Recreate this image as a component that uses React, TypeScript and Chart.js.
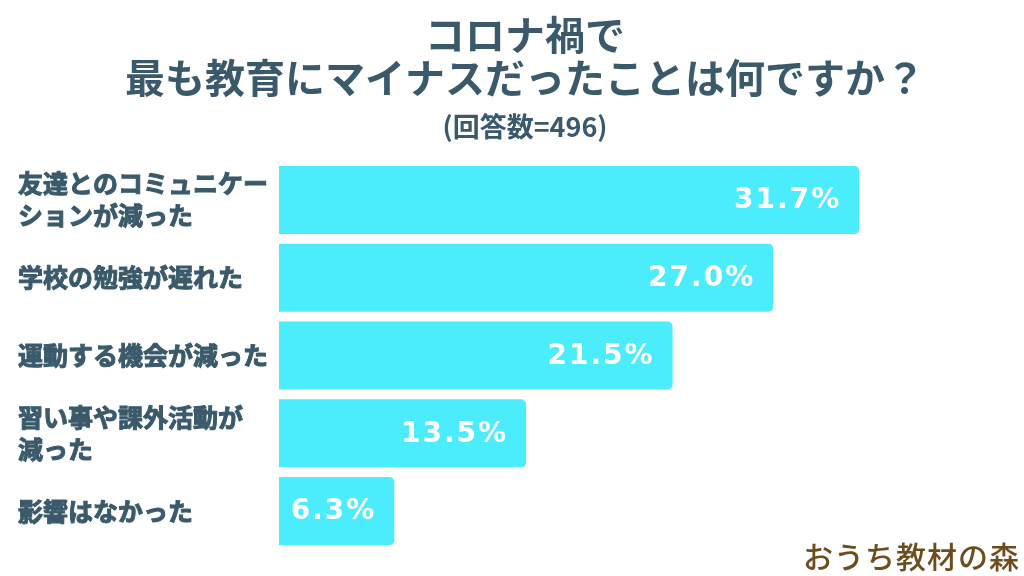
import React, { useEffect, useRef } from 'react';
import { Chart, registerables } from 'chart.js';

Chart.register(...registerables);

const titleLines = ['コロナ禍で', '最も教育にマイナスだったことは何ですか？'];
const subtitleText = '(回答数=496)';
const categories = [
  ['友達とのコミュニケー', 'ションが減った'],
  ['学校の勉強が遅れた'],
  ['運動する機会が減った'],
  ['習い事や課外活動が', '減った'],
  ['影響はなかった'],
];
const values = [31.7, 27.0, 21.5, 13.5, 6.3];
const watermark = 'おうち教材の森';

const TEXT = '#3a5a6b';
const BAR = '#4bedfd';
const CJK = '"Noto Sans CJK JP", "Noto Sans", sans-serif';

const valueLabels = {
  id: 'valueLabels',
  afterDatasetsDraw(chart: any) {
    const ctx = chart.ctx;
    const meta = chart.getDatasetMeta(0);
    ctx.save();
    ctx.font = 'bold 28px "DejaVu Sans"';
    (ctx as any).letterSpacing = '2px';
    ctx.fillStyle = '#ffffff';
    ctx.textAlign = 'right';
    ctx.textBaseline = 'middle';
    meta.data.forEach((bar: any, i: number) => {
      ctx.fillText(values[i].toFixed(1) + '%', bar.x - 18, bar.y + 1);
    });
    ctx.restore();
  },
};

const watermarkPlugin = {
  id: 'watermark',
  afterDraw(chart: any) {
    const ctx = chart.ctx;
    ctx.save();
    ctx.font = '500 30px ' + CJK;
    (ctx as any).letterSpacing = '1px';
    ctx.fillStyle = '#6d4c1d';
    ctx.textAlign = 'right';
    ctx.textBaseline = 'alphabetic';
    ctx.fillText(watermark, 1020, 568);
    ctx.restore();
  },
};

export default function App() {
  const ref = useRef<HTMLCanvasElement | null>(null);

  useEffect(() => {
    if (!ref.current) return;
    const chart = new Chart(ref.current, {
      type: 'bar',
      data: {
        labels: categories as any,
        datasets: [
          {
            data: values,
            backgroundColor: BAR,
            borderRadius: 5,
            borderSkipped: 'start',
            barPercentage: 0.875,
            categoryPercentage: 1,
          },
        ],
      },
      options: {
        indexAxis: 'y',
        responsive: false,
        animation: false,
        layout: { padding: { left: 18, right: -8, top: 0, bottom: 26 } },
        plugins: {
          legend: { display: false },
          tooltip: { enabled: false },
          title: {
            display: true,
            text: titleLines,
            color: TEXT,
            font: { family: CJK, size: 40, weight: 'bold', lineHeight: 1.075 },
            padding: { top: 13, bottom: 12 },
          },
          subtitle: {
            display: true,
            text: subtitleText,
            color: TEXT,
            font: { family: CJK, size: 27, weight: 'bold', lineHeight: 1.15 },
            padding: { top: 0, bottom: 19 },
          },
        },
        scales: {
          x: {
            display: false,
            min: 0,
            max: 40.7,
            grid: { display: false },
          },
          y: {
            grid: { display: false },
            border: { display: false },
            afterFit: (scale: any) => {
              scale.width = 261;
              scale.paddingTop = 0;
              scale.paddingBottom = 0;
            },
            ticks: {
              crossAlign: 'far',
              color: TEXT,
              textStrokeColor: TEXT,
              textStrokeWidth: 1,
              font: { family: CJK, size: 25, weight: 'bold', lineHeight: 1.28 },
            },
          },
        },
      },
      plugins: [valueLabels, watermarkPlugin],
    });
    return () => chart.destroy();
  }, []);

  return (
    <div style={{ position: 'absolute', left: 0, top: 0, width: 1024, height: 576, background: '#ffffff' }}>
      <canvas ref={ref} width={1024} height={576} style={{ display: 'block' }} />
    </div>
  );
}
